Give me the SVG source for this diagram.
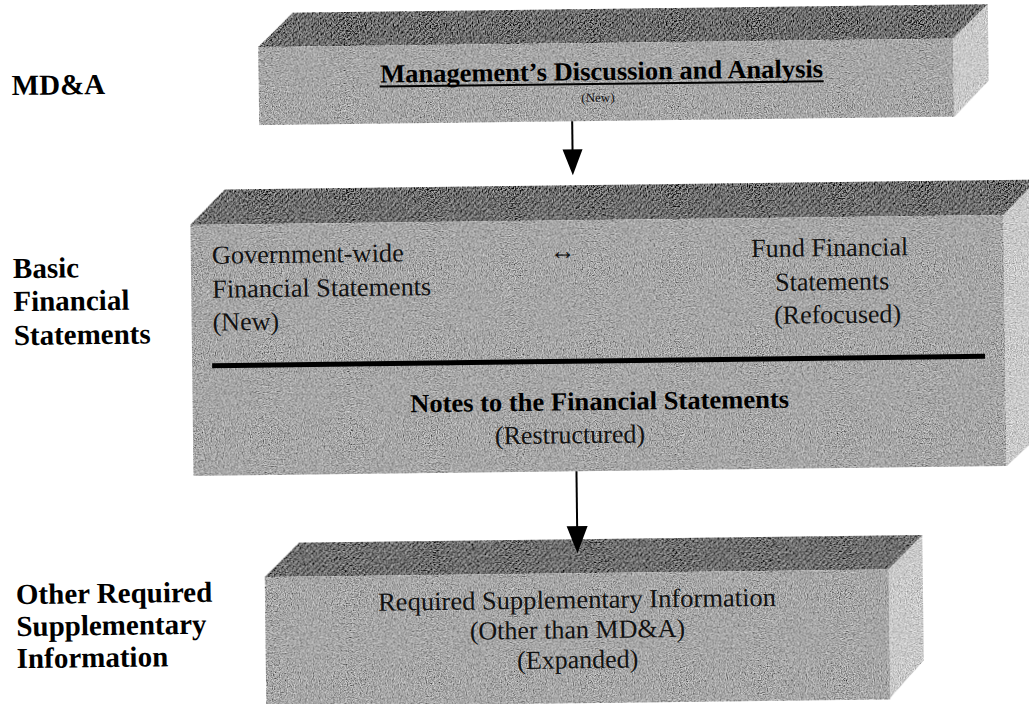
<svg xmlns="http://www.w3.org/2000/svg" width="1029" height="704" viewBox="0 0 1029 704">
<defs>
<filter id="grain" filterUnits="userSpaceOnUse" x="-20" y="-20" width="1100" height="760">
<feTurbulence type="fractalNoise" baseFrequency="0.85" numOctaves="2" seed="4" result="t"/>
<feColorMatrix in="t" type="matrix" values="1 0 0 0 0  1 0 0 0 0  1 0 0 0 0  0 0 0 0 1" result="g"/>
<feComposite in="SourceGraphic" in2="g" operator="arithmetic" k1="0" k2="1" k3="1.1" k4="-0.55" result="m"/>
<feComposite in="m" in2="SourceAlpha" operator="in"/>
</filter>
<pattern id="hatch" width="4" height="4" patternUnits="userSpaceOnUse" patternTransform="rotate(45)">
<rect width="4" height="4" fill="#808080"/>
<rect width="1.6" height="4" fill="#4a4a4a"/>
</pattern>
<style>
.front{fill:#a6a6a6;filter:url(#grain)}
.top{fill:url(#hatch);filter:url(#grain)}
.side{fill:#c9c9c9;filter:url(#grain)}
.lbl{font-family:"Liberation Serif","Times New Roman",serif;font-weight:bold;font-size:29px;fill:#000}
.t{font-family:"Liberation Serif","Times New Roman",serif;font-size:26px;fill:#111}
.tb{font-family:"Liberation Serif","Times New Roman",serif;font-size:26px;font-weight:bold;fill:#000}
.small{font-family:"Liberation Serif","Times New Roman",serif;font-size:13px;fill:#111}
.conn{stroke:#000;stroke-width:2;fill:none}
.head{fill:#000}
</style>
</defs>
<rect width="1029" height="704" fill="#fff"/>
<g transform="rotate(-0.7 514 352)">
<g id="label-mda">
<text class="lbl" x="15" y="89">MD&amp;A</text>
</g>
<g id="label-bfs">
<text class="lbl" x="14" y="272">Basic</text>
<text class="lbl" x="14" y="305">Financial</text>
<text class="lbl" x="14" y="339">Statements</text>
</g>
<g id="label-orsi">
<text class="lbl" x="13" y="598">Other Required</text>
<text class="lbl" x="13" y="630">Supplementary</text>
<text class="lbl" x="13" y="662">Information</text>
</g>
<g id="node-mda">
<polygon class="top" points="262,44 297,10 992,10 957,44"/>
<polygon class="side" points="957,44 992,10 992,86 957,122"/>
<rect class="front" x="262" y="44" width="695" height="78"/>
<text class="tb" x="605" y="81" text-anchor="middle" textLength="443" lengthAdjust="spacingAndGlyphs">Management’s Discussion and Analysis</text>
<line x1="383" y1="85" x2="827" y2="85" stroke="#000" stroke-width="2"/>
<text class="small" x="601" y="103" text-anchor="middle">(New)</text>
</g>
<g id="node-bfs">
<polygon class="top" points="192,221 227,186 1040,186 1005,221"/>
<polygon class="side" points="1005,221 1040,186 1040,440 1005,472"/>
<rect class="front" x="192" y="221" width="813" height="251"/>
<text class="t" x="213" y="260" textLength="192" lengthAdjust="spacingAndGlyphs">Government-wide</text>
<text class="t" x="213" y="294" textLength="219" lengthAdjust="spacingAndGlyphs">Financial Statements</text>
<text class="t" x="213" y="327">(New)</text>
<text class="t" x="564" y="260" text-anchor="middle">↔</text>
<text class="t" x="831" y="260" text-anchor="middle" textLength="157" lengthAdjust="spacingAndGlyphs">Fund Financial</text>
<text class="t" x="833" y="294" text-anchor="middle">Statements</text>
<text class="t" x="838" y="327" text-anchor="middle">(Refocused)</text>
<line x1="212" y1="362" x2="985" y2="362" stroke="#000" stroke-width="5"/>
<text class="tb" x="599" y="411" text-anchor="middle" textLength="379" lengthAdjust="spacingAndGlyphs">Notes to the Financial Statements</text>
<text class="t" x="569" y="444" text-anchor="middle">(Restructured)</text>
</g>
<g id="node-rsi">
<polygon class="top" points="262,574 297,540 920,540 886,574"/>
<polygon class="side" points="886,574 920,540 920,665 886,702"/>
<rect class="front" x="262" y="574" width="624" height="130"/>
<text class="t" x="574" y="609" text-anchor="middle" textLength="398" lengthAdjust="spacingAndGlyphs">Required Supplementary Information</text>
<text class="t" x="574" y="639" text-anchor="middle">(Other than MD&amp;A)</text>
<text class="t" x="574" y="669" text-anchor="middle">(Expanded)</text>
</g>
<g id="connectors">
<line class="conn" x1="575" y1="122" x2="575" y2="152"/>
<polygon class="head" points="565,150 585,150 575,176"/>
<line class="conn" x1="575" y1="472" x2="575" y2="530"/>
<polygon class="head" points="564.5,527 585.5,527 575,554"/>
</g>
</g>
</svg>
